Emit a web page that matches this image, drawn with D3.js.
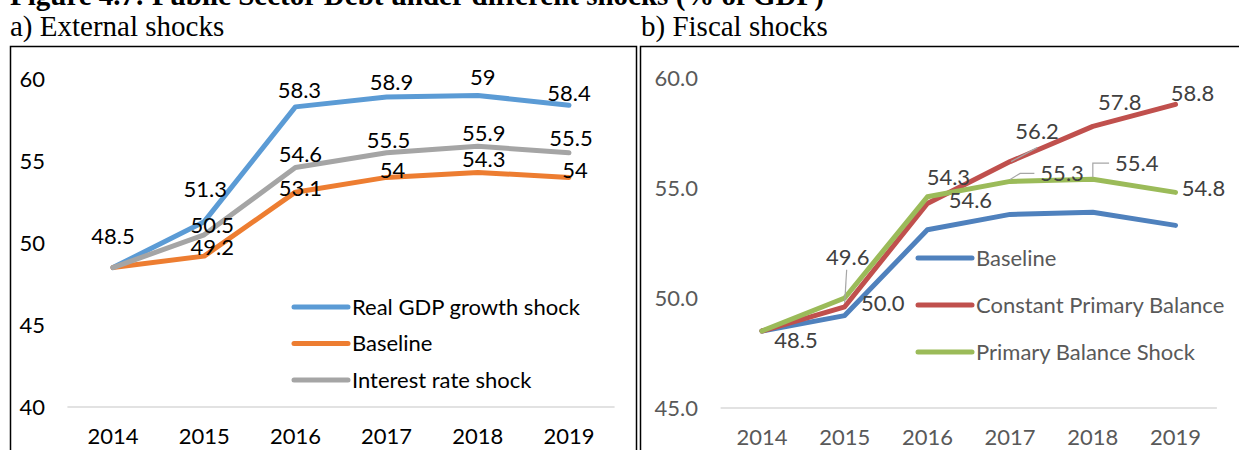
<!DOCTYPE html>
<meta charset="utf-8">
<style>
body { margin: 0; background: #fff; }
.line { fill: none; stroke-width: 5px; stroke-linejoin: round; stroke-linecap: round; }
.tick text { font-family: Lato, sans-serif; }
</style>
<body>
<script src="https://cdn.jsdelivr.net/npm/d3@7"></script>
<script>

// data
var years = ["2014", "2015", "2016", "2017", "2018", "2019"];

// a) external shocks
var extGdp  = [48.5, 51.3, 58.3, 58.9, 59, 58.4];
var extBase = [48.5, 49.2, 53.1, 54, 54.3, 54];
var extRate = [48.5, 50.5, 54.6, 55.5, 55.9, 55.5];
var extTicks = [40, 45, 50, 55, 60];

// b) fiscal shocks
var fisBase  = [48.5, 49.2, 53.1, 53.8, 53.9, 53.3];
var fisConst = [48.5, 49.6, 54.3, 56.2, 57.8, 58.8];
var fisShock = [48.5, 50.0, 54.6, 55.3, 55.4, 54.8];
var fisTicks = [45, 50, 55, 60];

// label nudges [dx, dy] from the point (null = no label)
var extGdpOff  = [[0, -31], [1, -32], [4, -17], [5, -15], [5, -18], [0, -12]];
var extBaseOff = [null, [8, -9], [5, -4], [6, -7], [6, -13], [6, -7]];
var extRateOff = [null, [8, -10], [5, -13], [2, -13], [6, -13], [2, -15]];
var fisBaseOff  = [[34, 9], null, null, null, null, null];
var fisConstOff = [null, [3, -50, "v"], [21, -26], [27, -30, "d"], [27, -24], [17, -11]];
var fisShockOff = [null, [38, 5], [43, 3], [52, -8, "e"], [44, -16, "e"], [28, -4]];

var W = 1239, H = 450;
var svg = d3.select("body").append("svg")
    .attr("width", W)
    .attr("height", H);

// figure title (cut at the top edge, as in the source)
svg.append("text")
    .attr("x", 10).attr("y", 5)
    .style("font-family", "'Liberation Serif', serif")
    .style("font-weight", "bold")
    .style("font-size", "29px")
    .text("Figure 4.7: Public Sector Debt under different shocks (% of GDP)");

svg.append("text")
    .attr("x", 10).attr("y", 36)
    .style("font-family", "'Liberation Serif', serif")
    .style("font-size", "29px")
    .text("a) External shocks");

svg.append("text")
    .attr("x", 641).attr("y", 36)
    .style("font-family", "'Liberation Serif', serif")
    .style("font-size", "29px")
    .text("b) Fiscal shocks");

// panel frames
svg.append("rect")
    .attr("x", 10.5).attr("y", 46.5).attr("width", 626).attr("height", 420)
    .attr("fill", "none").attr("stroke", "#000").attr("stroke-width", 1.5);
svg.append("rect")
    .attr("x", 640.5).attr("y", 46.5).attr("width", 620).attr("height", 420)
    .attr("fill", "none").attr("stroke", "#000").attr("stroke-width", 1.5);

function panel(cfg) {
  var x = d3.scaleBand().domain(years).range(cfg.xr);
  var y = d3.scaleLinear().domain(cfg.yd).range(cfg.yr);
  var g = svg.append("g");

  // baseline grid line
  g.append("line")
      .attr("x1", cfg.xr[0]).attr("x2", cfg.xr[1])
      .attr("y1", y(cfg.yd[0])).attr("y2", y(cfg.yd[0]))
      .attr("stroke", "#d9d9d9").attr("stroke-width", 1.5);

  // y axis labels
  var ya = g.append("g")
      .attr("transform", "translate(" + cfg.yLabX + ",0)")
      .call(d3.axisLeft(y).tickValues(cfg.ticks).tickFormat(cfg.fmt).tickSize(0).tickPadding(0));
  ya.select(".domain").remove();
  ya.selectAll("text").style("font-size", cfg.fs).attr("fill", cfg.txt);

  // x axis labels
  var xa = g.append("g")
      .attr("transform", "translate(0," + cfg.xLabY + ")")
      .call(d3.axisBottom(x).tickSize(0).tickPadding(0));
  xa.select(".domain").remove();
  xa.selectAll("text").style("font-size", cfg.fs).attr("fill", cfg.txt).attr("dy", "0.35em");

  var line = d3.line()
      .x(function(d, i) { return x(years[i]) + x.bandwidth() / 2; })
      .y(function(d) { return y(d); });

  cfg.series.forEach(function(s) {
    g.append("path")
        .datum(s.values)
        .attr("class", "line")
        .attr("stroke", s.color)
        .attr("d", line);
  });

  // data labels
  cfg.series.forEach(function(s) {
    s.values.forEach(function(v, i) {
      var o = s.off[i];
      if (!o) return;
      var px = x(years[i]) + x.bandwidth() / 2, py = y(v);
      var lx = px + o[0], ly = py + o[1];
      var t = g.append("text")
          .attr("x", lx).attr("y", ly)
          .attr("dy", "0.35em")
          .attr("text-anchor", "middle")
          .style("font-family", "Lato, sans-serif")
          .style("font-size", cfg.fs)
          .attr("fill", cfg.lab)
          .text(cfg.lfmt(v));
      if (o[2]) {
        var hw = t.node().getComputedTextLength() / 2, p;
        if (o[2] == "v") p = [[lx - 1, ly + 13], [px, py - 4]];
        else if (o[2] == "d") p = [[px + 1, py], [lx, ly + 16]];
        else p = [[px, py - 2], [px + (o[0] > 46 ? 10 : 0), ly], [lx - hw - 6, ly]];
        g.append("path")
            .attr("d", d3.line()(p))
            .attr("fill", "none")
            .attr("stroke", "#a6a6a6")
            .attr("stroke-width", 1.2);
      }
    });
  });

  // legend
  cfg.series.forEach(function(s, i) {
    var ly = cfg.leg.y + i * cfg.leg.step;
    g.append("line")
        .attr("x1", cfg.leg.x).attr("x2", cfg.leg.x + 54)
        .attr("y1", ly).attr("y2", ly)
        .attr("class", "line")
        .attr("stroke", s.color);
    g.append("text")
        .attr("x", cfg.leg.x + 58).attr("y", ly)
        .attr("dy", "0.35em")
        .style("font-family", "Lato, sans-serif")
        .style("font-size", cfg.fs)
        .attr("fill", cfg.txt)
        .text(s.name);
  });
}

panel({
  xr: [67.4, 614.6], yd: [40, 60], yr: [407, 79],
  ticks: extTicks, fmt: d3.format("d"), lfmt: function(v) { return String(v); },
  yLabX: 45, xLabY: 436, fs: "22px", txt: "#000", lab: "#000",
  leg: {x: 294, y: 307, step: 36.5},
  series: [
    {name: "Real GDP growth shock", values: extGdp, color: "#5b9bd5", off: extGdpOff},
    {name: "Baseline", values: extBase, color: "#ed7d31", off: extBaseOff},
    {name: "Interest rate shock", values: extRate, color: "#a5a5a5", off: extRateOff}
  ]
});

panel({
  xr: [720.6, 1216.9], yd: [45, 60], yr: [408, 78],
  ticks: fisTicks, fmt: d3.format(".1f"), lfmt: d3.format(".1f"),
  yLabX: 698, xLabY: 437, fs: "22px", txt: "#595959", lab: "#404040",
  leg: {x: 918, y: 258, step: 47},
  series: [
    {name: "Baseline", values: fisBase, color: "#4f81bd", off: fisBaseOff},
    {name: "Constant Primary Balance", values: fisConst, color: "#c0504d", off: fisConstOff},
    {name: "Primary Balance Shock", values: fisShock, color: "#9bbb59", off: fisShockOff}
  ]
});

</script>
</body>
